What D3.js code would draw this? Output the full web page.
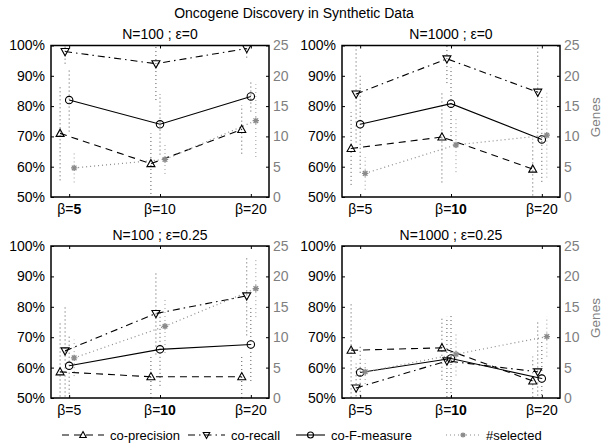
<!DOCTYPE html>
<html><head><meta charset="utf-8">
<script src="https://cdn.jsdelivr.net/npm/d3@7"></script>
<style>
html,body{margin:0;padding:0;background:#fff;}
svg{display:block;font-family:"Liberation Sans",Arial,Helvetica,sans-serif;}
</style></head><body>
<svg id="chart" width="602" height="447"></svg>
<script>
// ---------------- DATA ----------------
const chartTitle = "Oncogene Discovery in Synthetic Data";
const panelTitles = ["N=100 ; \u03b5=0", "N=1000 ; \u03b5=0", "N=100 ; \u03b5=0.25", "N=1000 ; \u03b5=0.25"];
const betaValues = ["5", "10", "20"];
const boldBeta = [0, 1, 1, 1];
const pctTicks = [50, 60, 70, 80, 90, 100];
const geneTicks = [0, 5, 10, 15, 20, 25];
const legendLabels = ["co-precision", "co-recall", "co-F-measure", "#selected"];
const genesLabel = "Genes";

// per panel: [beta5, beta10, beta20]
const coPrecision    = [[71, 61, 72.3], [66, 69.8, 59.2], [58.6, 57, 57], [65.7, 66.5, 55.6]];
const coPrecisionErr = [[15.5, 10, 8], [12, 15, 10], [16, 7, 7], [15.5, 10.5, 8]];
const coRecall       = [[98, 94, 99], [84, 95.6, 84.6], [65.5, 77.8, 83.6], [53.3, 62.2, 58.6]];
const coRecallErr    = [[4, 12, 3], [16, 8, 16], [15, 13.5, 13], [8, 14.5, 17]];
const coFMeasure     = [[82, 74, 83.2], [74, 80.8, 69], [60.6, 66, 67.6], [58.4, 63, 56.4]];
const coFMeasureErr  = [[10.4, 10, 5], [16, 12, 14], [10.5, 12, 12], [9, 14, 12]];
const selected       = [[4.8, 6.2, 12.6], [3.9, 8.6, 10.2], [6.6, 11.8, 18], [4.3, 7.2, 10.1]];
const selectedErr    = [[2.4, 2.4, 6], [2.7, 4.5, 7], [3, 4.4, 4.7], [2, 3.5, 3.3]];

// ---------------- STYLE / LAYOUT ----------------
const series = [
  {vals: coPrecision, errs: coPrecisionErr, axis: "pct",  off: -0.1,  dash: "7,5",       color: "#000", marker: "up",   errColor: "#555"},
  {vals: coRecall,    errs: coRecallErr,    axis: "pct",  off: -0.045,dash: "7,4,1.5,4", color: "#000", marker: "down", errColor: "#555"},
  {vals: coFMeasure,  errs: coFMeasureErr,  axis: "pct",  off: 0,     dash: null,        color: "#000", marker: "circ", errColor: "#555"},
  {vals: selected,    errs: selectedErr,    axis: "gene", off: 0.055, dash: "1,3",       color: "#8a8a8a", marker: "star", errColor: "#9a9a9a"}
];
const layout = [
  {x0: 51,  x1: 269, y0: 45.5, y1: 197},
  {x0: 342, x1: 560, y0: 45.5, y1: 197},
  {x0: 51,  x1: 269, y0: 246,  y1: 398},
  {x0: 342, x1: 560, y0: 246,  y1: 398}
];
const gray = "#7f7f7f";
const svg = d3.select("#chart");

function drawMarker(sel, type, cx, cy, s, color) {
  const k = s / 8;
  if (type === "up") {
    sel.append("path").attr("d", `M${cx},${cy-4.2*k}L${cx+4*k},${cy+3*k}L${cx-4*k},${cy+3*k}Z`)
      .attr("fill", "none").attr("stroke", color).attr("stroke-width", 1.1);
  } else if (type === "down") {
    sel.append("path").attr("d", `M${cx},${cy+4.2*k}L${cx+4*k},${cy-3*k}L${cx-4*k},${cy-3*k}Z`)
      .attr("fill", "none").attr("stroke", color).attr("stroke-width", 1.1);
  } else if (type === "circ") {
    sel.append("circle").attr("cx", cx).attr("cy", cy).attr("r", 3.7*k)
      .attr("fill", "none").attr("stroke", color).attr("stroke-width", 1.1);
  } else {
    const r = 3.2*k, d = r*0.72;
    sel.append("path").attr("d",
      `M${cx-r},${cy}L${cx+r},${cy}M${cx},${cy-r}L${cx},${cy+r}M${cx-d},${cy-d}L${cx+d},${cy+d}M${cx-d},${cy+d}L${cx+d},${cy-d}`)
      .attr("stroke", color).attr("stroke-width", 1.3).attr("fill", "none");
  }
}

// Title
svg.append("text").attr("x", 294).attr("y", 18).attr("text-anchor", "middle")
  .attr("font-size", 14).text(chartTitle);

layout.forEach((L, p) => {
  const x  = d3.scaleLinear().domain([0.8, 3.2]).range([L.x0, L.x1]);
  const yP = d3.scaleLinear().domain([50, 100]).range([L.y1, L.y0]);
  const yG = d3.scaleLinear().domain([0, 25]).range([L.y1, L.y0]);
  const g = svg.append("g");
  const cid = "clip" + p;
  svg.append("clipPath").attr("id", cid).append("rect")
    .attr("x", L.x0).attr("y", L.y0).attr("width", L.x1 - L.x0).attr("height", L.y1 - L.y0);
  const plot = g.append("g").attr("clip-path", `url(#${cid})`);

  // error bars
  series.forEach(s => {
    const y = s.axis === "pct" ? yP : yG;
    s.vals[p].forEach((v, i) => {
      const e = s.errs[p][i];
      plot.append("line")
        .attr("x1", x(i + 1 + s.off)).attr("x2", x(i + 1 + s.off))
        .attr("y1", y(v - e)).attr("y2", y(v + e))
        .attr("stroke", s.errColor).attr("stroke-width", 1).attr("stroke-dasharray", "1,3");
    });
  });
  // lines
  series.forEach(s => {
    const y = s.axis === "pct" ? yP : yG;
    const line = d3.line().x((v, i) => x(i + 1 + s.off)).y(v => y(v));
    plot.append("path").attr("d", line(s.vals[p])).attr("fill", "none")
      .attr("stroke", s.color).attr("stroke-width", s.marker === "star" ? 1.2 : 1.1)
      .attr("stroke-dasharray", s.dash);
  });
  // markers
  series.forEach(s => {
    const y = s.axis === "pct" ? yP : yG;
    s.vals[p].forEach((v, i) => drawMarker(plot, s.marker, x(i + 1 + s.off), y(v), 8, s.color));
  });

  // box
  g.append("rect").attr("x", L.x0).attr("y", L.y0).attr("width", L.x1 - L.x0).attr("height", L.y1 - L.y0)
    .attr("fill", "none").attr("stroke", "#000").attr("stroke-width", 1.5);

  // left axis
  g.append("g").attr("transform", `translate(${L.x0},0)`)
    .call(d3.axisLeft(yP).tickValues(pctTicks).tickFormat(d => d + "%").tickSizeInner(-3).tickSizeOuter(0).tickPadding(6))
    .attr("font-family", null).attr("font-size", 14)
    .call(a => a.select(".domain").remove())
    .call(a => a.selectAll("text").attr("fill", "#000"));
  // right axis
  g.append("g").attr("transform", `translate(${L.x1},0)`)
    .call(d3.axisRight(yG).tickValues(geneTicks).tickSizeInner(-3).tickSizeOuter(0).tickPadding(4))
    .attr("font-family", null).attr("font-size", 14)
    .call(a => a.select(".domain").remove())
    .call(a => a.selectAll("text").attr("fill", gray))
    .call(a => a.selectAll("line").attr("stroke", "#000"));
  // bottom/top ticks
  g.append("g").attr("transform", `translate(0,${L.y1})`)
    .call(d3.axisBottom(x).tickValues([1, 2, 3]).tickFormat("").tickSizeInner(-3).tickSizeOuter(0))
    .call(a => a.select(".domain").remove());
  g.append("g").attr("transform", `translate(0,${L.y0})`)
    .call(d3.axisTop(x).tickValues([1, 2, 3]).tickFormat("").tickSizeInner(-3).tickSizeOuter(0))
    .call(a => a.select(".domain").remove());
  // x labels
  betaValues.forEach((b, i) => {
    const t = g.append("text").attr("x", x(i + 1)).attr("y", L.y1 + 17)
      .attr("text-anchor", "middle").attr("font-size", 14);
    t.append("tspan").text("\u03b2=");
    t.append("tspan").attr("font-weight", i === boldBeta[p] ? "bold" : null).text(b);
  });
  // panel title
  g.append("text").attr("x", (L.x0 + L.x1) / 2).attr("y", L.y0 - 6.5)
    .attr("text-anchor", "middle").attr("font-size", 14).text(panelTitles[p]);
  // Genes label (right column)
  if (p % 2 === 1) {
    g.append("text").attr("transform", `translate(600,${(L.y0 + L.y1) / 2 - 4}) rotate(-90)`)
      .attr("text-anchor", "middle").attr("font-size", 13.5).attr("fill", gray).text(genesLabel);
  }
});

// Legend
const legY = 435;
const legSample = [[62, 104], [188, 225], [296, 325], [446, 480]];
const leg = svg.append("g");
series.forEach((s, k) => {
  const [a, b] = legSample[k];
  leg.append("line").attr("x1", a).attr("x2", b).attr("y1", legY).attr("y2", legY)
    .attr("stroke", s.color).attr("stroke-width", 1.1).attr("stroke-dasharray", s.dash);
  drawMarker(leg, s.marker, (a + b) / 2, legY, 6.5, s.color);
  leg.append("text").attr("x", b + 6).attr("y", legY + 4.5).attr("font-size", 13).text(legendLabels[k]);
});
</script>
</body></html>
